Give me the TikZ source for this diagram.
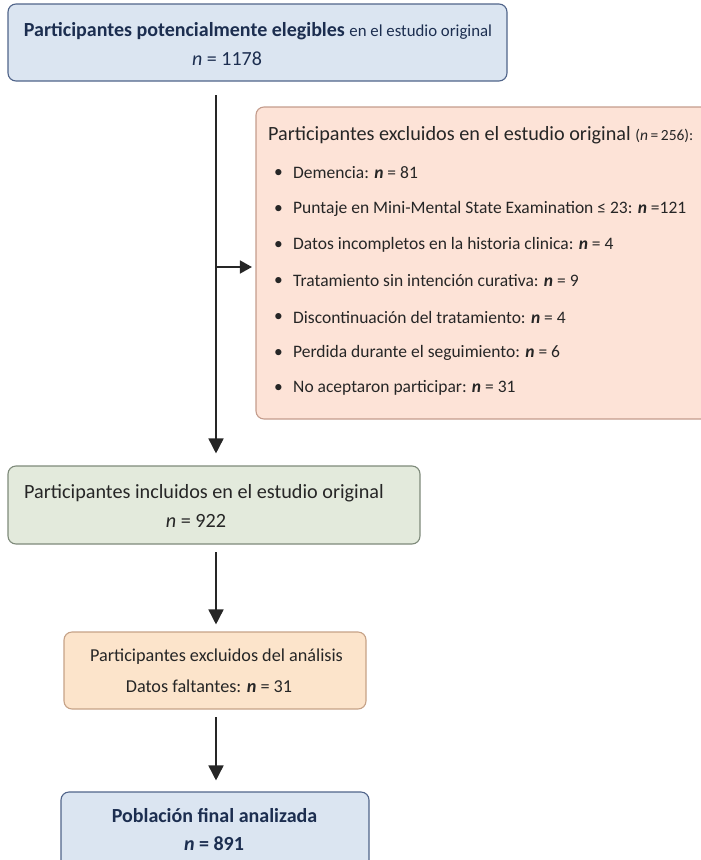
\documentclass[tikz,border=0pt]{standalone}
\usepackage{fontspec}
\setmainfont{Carlito}
\usetikzlibrary{arrows.meta}
\definecolor{bluefill}{HTML}{DBE5F1}
\definecolor{blueline}{HTML}{50648A}
\definecolor{navy}{HTML}{1C2E50}
\definecolor{orfill}{HTML}{FDE3D7}
\definecolor{orline}{HTML}{C49C8C}
\definecolor{grfill}{HTML}{E3EADC}
\definecolor{grline}{HTML}{7E8A7A}
\definecolor{pcfill}{HTML}{FCE4CB}
\definecolor{pcline}{HTML}{C6A287}
\definecolor{ink}{HTML}{262626}
\newcommand{\nn}{\textbf{\textit{n}}}
\tikzset{
  box/.style={rectangle, rounded corners=8pt, line width=1.1pt, inner sep=0pt},
  arr/.style={draw=ink, line width=1.6pt, -{Triangle[width=15pt,length=15pt]}},
  sarr/.style={draw=ink, line width=1.6pt, -{Triangle[width=13pt,length=12pt]}},
  txt/.style={inner sep=0pt, text=ink},
  bul/.style={inner sep=0pt, text=ink, anchor=west, font=\fontsize{17.5}{19}\selectfont},
}
\begin{document}
\begin{tikzpicture}[x=1pt,y=-1pt]
\useasboundingbox (0,0) rectangle (701,860);
\begin{scope}
\clip (0,0) rectangle (701,860);
% boxes
\node[box, fill=bluefill, draw=blueline, minimum width=499pt, minimum height=77pt] (b1) at (257.5,42.5) {};
\node[box, fill=orfill, draw=orline, minimum width=462pt, minimum height=312pt] (b2) at (487,263) {};
\node[box, fill=grfill, draw=grline, minimum width=412pt, minimum height=78pt] (b3) at (214,505) {};
\node[box, fill=pcfill, draw=pcline, minimum width=302pt, minimum height=77pt] (b4) at (215,670.5) {};
\node[box, fill=bluefill, draw=blueline, minimum width=308pt, minimum height=90pt] (b5) at (215,837) {};

% texts box 1
\node[txt, text=navy, font=\fontsize{20}{22}\selectfont] (t1a) at (258,31) {\textbf{Participantes potencialmente elegibles} {\fontsize{16.8}{18}\selectfont en el estudio original}};
\node[txt, text=navy, font=\fontsize{20}{22}\selectfont] (t1b) at (227,59) {\textit{n} = 1178};

% box 2
\node[txt, anchor=west, font=\fontsize{20.2}{22}\selectfont] (t2) at (268,135) {Participantes excluidos en el estudio original {\fontsize{15.5}{17}\selectfont(\textit{n}\,=\,256):}};
\foreach \yy/\lab/\tx in {
  173/i1/{Demencia: \nn{} = 81},
  209/i2/{Puntaje en Mini-Mental State Examination ≤ 23: \nn{} =121},
  245/i3/{Datos incompletos en la historia clinica: \nn{} = 4},
  281/i4/{Tratamiento sin intención curativa: \nn{} = 9},
  317/i5/{Discontinuación del tratamiento: \nn{} = 4},
  353/i6/{Perdida durante el seguimiento: \nn{} = 6},
  388/i7/{No aceptaron participar: \nn{} = 31}}{
  \node[bul] (\lab) at (293,\yy) {\tx};
  \node[bul, anchor=center] (\lab d) at (278.5,\yy) {•};
}

% box 3
\node[txt, font=\fontsize{20.2}{22}\selectfont] (t3a) at (204,493) {Participantes incluidos en el estudio original};
\node[txt, font=\fontsize{20.2}{22}\selectfont] (t3b) at (196,521) {\textit{n} = 922};

% box 4
\node[txt, font=\fontsize{18.2}{20}\selectfont] (t4a) at (216.5,657) {Participantes excluidos del análisis};
\node[txt, font=\fontsize{18.2}{20}\selectfont] (t4b) at (209,686) {Datos faltantes: \nn{} = 31};

% box 5
\node[txt, text=navy, font=\fontsize{20}{22}\selectfont\bfseries] (t5a) at (214.5,816) {Población final analizada};
\node[txt, text=navy, font=\fontsize{20}{22}\selectfont\bfseries] (t5b) at (214,844) {\textit{n} = 891};

% connectors
\coordinate (c1) at (216,95);
\coordinate (br) at (216,267);
\coordinate (c2) at (216,552);
\coordinate (c3) at (216,717);
\draw[arr, shorten >=12pt] (c1) -- (c1 |- b3.north);
\draw[sarr, shorten >=3.5pt] (br) -- (br -| b2.west);
\draw[arr, shorten >=7pt] (c2) -- (c2 |- b4.north);
\draw[arr, shorten >=11pt] (c3) -- (c3 |- b5.north);
\end{scope}
\end{tikzpicture}
\end{document}
